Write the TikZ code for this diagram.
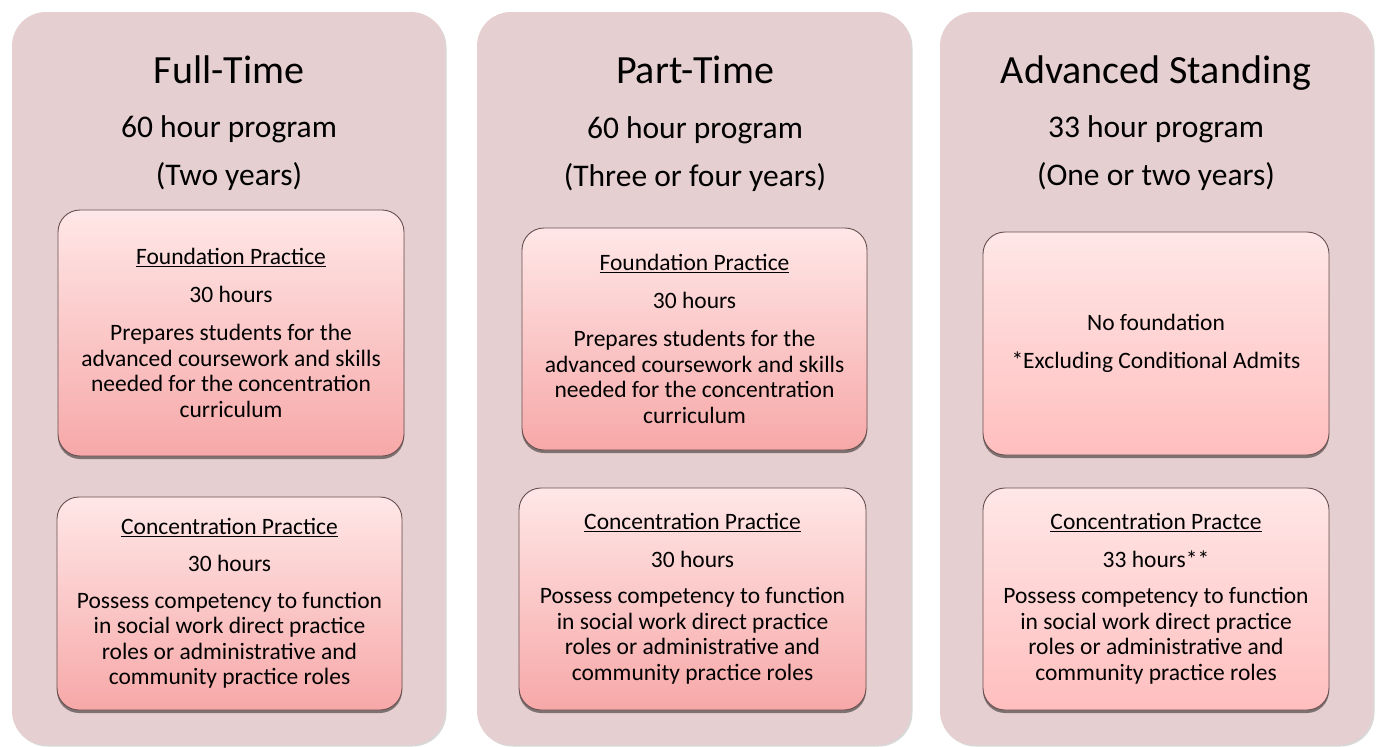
\documentclass[tikz,border=0pt]{standalone}
\usepackage{fontspec}
\setmainfont{Carlito}
\usetikzlibrary{shadows}
\definecolor{panelc}{RGB}{230,207,208}
\definecolor{bordc}{RGB}{105,80,80}
\definecolor{topc}{RGB}{255,231,231}
\definecolor{botc}{RGB}{247,168,168}
\definecolor{botcc}{RGB}{255,190,190}
\newcommand{\hd}[1]{\underline{#1}}
\begin{document}
\begin{tikzpicture}[x=1pt,y=-1pt,
  panel/.style={fill=panelc, rounded corners=34pt, draw=none, inner sep=0pt,
    drop shadow={shadow xshift=1.5pt, shadow yshift=-1.5pt, opacity=0.25, fill=black!60}},
  card/.style={draw=bordc, line width=0.9pt, rounded corners=22pt, top color=topc, bottom color=botc,
    inner sep=0pt, align=center, font=\fontsize{23.5}{25.5}\selectfont,
    drop shadow={shadow xshift=0pt, shadow yshift=-3pt, opacity=0.45, fill=black}},
  cardlight/.style={card, bottom color=botcc},
  ttl/.style={anchor=base, font=\fontsize{40}{48}\selectfont},
  sub/.style={anchor=base, font=\fontsize{31.5}{38}\selectfont}]
\useasboundingbox (0,0) rectangle (1377,747);
\fill[white] (0,0) rectangle (1377,747);
% panels
\node[panel, minimum width=433pt, minimum height=733pt] (p1) at (228.5,378.5) {};
\node[panel, minimum width=434pt, minimum height=733pt] (p2) at (694,378.5) {};
\node[panel, minimum width=433pt, minimum height=733pt] (p3) at (1156.5,378.5) {};
% headings
\node[ttl] (t1) at (229,83) {Full-Time};
\node[sub] (s1a) at (229,137) {60 hour program};
\node[sub] (s1b) at (229,185) {(Two years)};
\node[ttl] (t2) at (695,83) {Part-Time};
\node[sub] (s2a) at (695,138.5) {60 hour program};
\node[sub] (s2b) at (695,186.5) {(Three or four years)};
\node[ttl] (t3) at (1156,83) {Advanced Standing};
\node[sub] (s3a) at (1156,137) {33 hour program};
\node[sub] (s3b) at (1156,185) {(One or two years)};
% cards
\node[card, minimum width=346pt, minimum height=246pt] (f1) at (231,333)
  {\hd{Foundation Practice}\\[12.5pt]30 hours\\[12.5pt]Prepares students for the\\advanced coursework and skills\\needed for the concentration\\curriculum};
\node[card, minimum width=345pt, minimum height=213pt] (c1) at (229.5,603.5)
  {\hd{Concentration Practice}\\[12pt]30 hours\\[11pt]Possess competency to function\\in social work direct practice\\roles or administrative and\\community practice roles};
\node[card, minimum width=345pt, minimum height=222pt] (f2) at (694.5,339)
  {\hd{Foundation Practice}\\[12.5pt]30 hours\\[12.5pt]Prepares students for the\\advanced coursework and skills\\needed for the concentration\\curriculum};
\node[card, minimum width=347pt, minimum height=222pt] (c2) at (692.5,599)
  {\hd{Concentration Practice}\\[12pt]30 hours\\[11pt]Possess competency to function\\in social work direct practice\\roles or administrative and\\community practice roles};
\node[cardlight, minimum width=346pt, minimum height=223pt] (f3) at (1156,343.5)
  {No foundation\\[12pt]*Excluding Conditional Admits};
\node[cardlight, minimum width=346pt, minimum height=222pt] (c3) at (1156,599)
  {\hd{Concentration Practce}\\[12pt]33 hours**\\[11pt]Possess competency to function\\in social work direct practice\\roles or administrative and\\community practice roles};
\end{tikzpicture}
\end{document}
